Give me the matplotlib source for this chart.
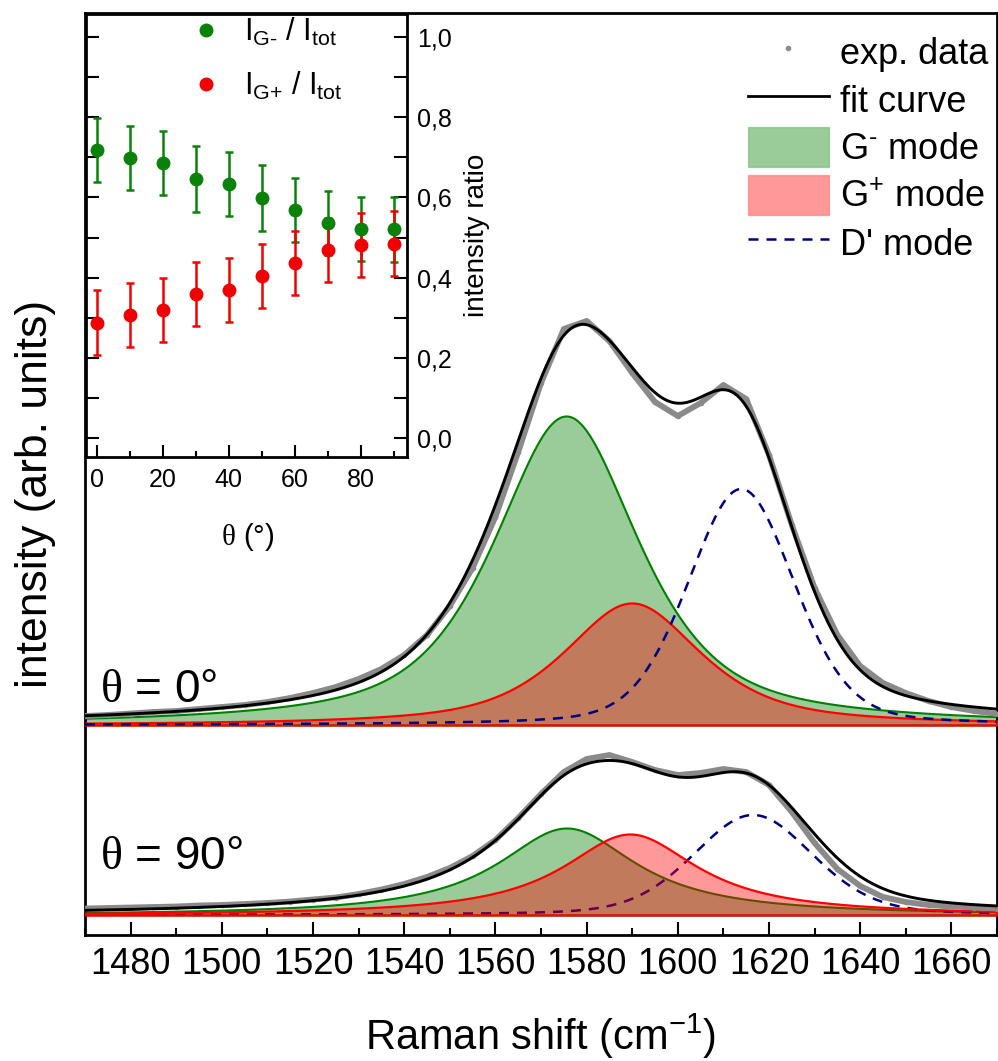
import numpy as np
import matplotlib
matplotlib.use("Agg")
import matplotlib.pyplot as plt
from matplotlib.lines import Line2D
from matplotlib.patches import Patch
from matplotlib.ticker import MultipleLocator, FixedLocator, FuncFormatter

plt.rcParams['font.family'] = ['Liberation Sans', 'DejaVu Sans']
plt.rcParams['mathtext.fontset'] = 'custom'
plt.rcParams['mathtext.rm'] = 'Liberation Sans'
plt.rcParams['mathtext.it'] = 'Liberation Sans:italic'
plt.rcParams['mathtext.sf'] = 'Liberation Serif'

# ---------------- data ----------------
raman_shift = [1470, 1475, 1480, 1485, 1490, 1495, 1500, 1505, 1510, 1515,
               1520, 1525, 1530, 1535, 1540, 1545, 1550, 1555, 1560, 1565,
               1570, 1575, 1580, 1585, 1590, 1595, 1600, 1605, 1610, 1615,
               1620, 1625, 1630, 1635, 1640, 1645, 1650, 1655, 1660, 1665, 1670]
exp_theta0 = [9, 10, 11.5, 13, 14, 16, 18, 20, 23, 27,
              32, 38, 46, 56, 70, 90, 119, 157, 208, 273,
              342, 396, 404, 384, 352, 323, 309, 322, 340, 326,
              270, 200, 137, 90, 59, 42, 32, 24, 18, 14, 11]
exp_theta90 = [6.5, 7, 7.5, 8, 8.5, 9.5, 10, 11, 12, 13.5,
               15.5, 17.5, 21, 25.5, 31, 38, 47, 59, 75, 97,
               121, 143, 156, 160, 153, 145, 140, 142, 146, 143,
               130, 103, 72, 46, 29, 18, 13, 10, 8.5, 7.5, 6.5]

# fitted peak parameters (G-, G+, D')
peak_names = ["G-", "G+", "D'"]
theta0_center = [1575.5, 1589.9, 1613.9]
theta0_hwhm = [19.0, 18.0, 13.8]
theta0_height = [309, 122, 236]
theta0_lorentz = [0.7, 0.7, 0.25]
theta90_center = [1575.6, 1589.5, 1616.5]
theta90_hwhm = [18.5, 18.0, 15.5]
theta90_height = [87, 81, 100]
theta90_lorentz = [1.0, 1.0, 0.25]

offset_theta0 = 210
offset_theta90 = 20

# inset: intensity ratios
theta_deg = [0, 10, 20, 30, 40, 50, 60, 70, 80, 90]
ratio_gminus = [0.718, 0.698, 0.686, 0.645, 0.634, 0.598, 0.568, 0.536, 0.522, 0.520]
ratio_gplus = [0.287, 0.306, 0.319, 0.359, 0.370, 0.405, 0.436, 0.468, 0.481, 0.484]
err_gminus = [0.08, 0.08, 0.08, 0.082, 0.08, 0.082, 0.08, 0.08, 0.08, 0.081]
err_gplus = [0.081, 0.08, 0.08, 0.08, 0.08, 0.08, 0.08, 0.08, 0.08, 0.081]

xticks_main = [1480, 1500, 1520, 1540, 1560, 1580, 1600, 1620, 1640, 1660]


def pseudo_voigt(x, c, w, h, eta):
    d2 = ((x - c) / w) ** 2
    return h * (eta / (1 + d2) + (1 - eta) * np.exp(-np.log(2) * d2))


W, H = 998, 1061
fig = plt.figure(figsize=(W / 100, H / 100), dpi=100)

ax = fig.add_axes([85 / W, 1 - 935 / H, 912 / W, 922 / H])
ax.set_xlim(1470, 1670)
ax.set_ylim(0, 922)

xf = np.linspace(1470, 1670, 1601)
GREEN = (0, 0.5, 0)
RED = (1, 0, 0)
NAVY = '#000080'
GRAY = '#8a8a8a'
DASH = (0, (4.0, 3.2))


def draw_spectrum(offset, centers, hwhms, heights, etas, exp_vals, dashed_on_top):
    comps = [pseudo_voigt(xf, c, w, h, e)
             for c, w, h, e in zip(centers, hwhms, heights, etas)]
    base = np.full_like(xf, offset)
    ax.fill_between(xf, base, base + comps[0], facecolor=(*GREEN, 0.4),
                    edgecolor=GREEN, linewidth=1.5, zorder=2)
    if not dashed_on_top:
        ax.plot(xf, base + comps[2], color=NAVY, lw=1.8, linestyle=DASH, zorder=2.5)
    ax.fill_between(xf, base, base + comps[1], facecolor=(*RED, 0.4),
                    edgecolor=RED, linewidth=1.6, zorder=3)
    if dashed_on_top:
        ax.plot(xf, base + comps[2], color=NAVY, lw=1.8, linestyle=DASH, zorder=3.5)
    ax.plot(raman_shift, np.array(exp_vals) + offset, color=GRAY, lw=4.2,
            solid_joinstyle='round', solid_capstyle='round', zorder=4)
    ax.plot(raman_shift, np.array(exp_vals) + offset, 'o', color=GRAY,
            ms=3, zorder=4)
    ax.plot(xf, base + sum(comps), color='black', lw=2.1, zorder=5)


draw_spectrum(offset_theta0, theta0_center, theta0_hwhm, theta0_height,
              theta0_lorentz, exp_theta0, True)
draw_spectrum(offset_theta90, theta90_center, theta90_hwhm, theta90_height,
              theta90_lorentz, exp_theta90, False)

for sp in ax.spines.values():
    sp.set_linewidth(2)
ax.set_yticks([])
ax.xaxis.set_major_locator(FixedLocator(xticks_main))
ax.xaxis.set_minor_locator(MultipleLocator(10))
ax.tick_params(axis='x', which='major', direction='in', length=9.5, width=1.5,
               pad=9, labelsize=26, top=False)
ax.tick_params(axis='x', which='minor', direction='in', length=5, width=1.5,
               top=False)

ax.set_xlabel('Raman shift (cm$^{-1}$)', fontsize=30)
ax.xaxis.label.set_va('center')
ax.xaxis.set_label_coords(0.5, (935 - 1036) / 922)
ax.set_ylabel('intensity (arb. units)', fontsize=32)
ax.yaxis.label.set_va('center')
ax.yaxis.set_label_coords((36 - 85) / 912, (935 - 494) / 922)

ax.text(1473.3, 245, r'$\mathsf{\theta}$ = 0°', fontsize=33, va='center', ha='left')
ax.text(1473.3, 78, r'$\mathsf{\theta}$ = 90°', fontsize=33, va='center', ha='left')

handles = [
    Line2D([], [], marker='o', ls='', color=GRAY, ms=3),
    Line2D([], [], color='black', lw=2),
    Patch(facecolor=(*GREEN, 0.4), edgecolor=(*GREEN, 0.25), lw=1),
    Patch(facecolor=(*RED, 0.4), edgecolor=(*RED, 0.25), lw=1),
    Line2D([], [], color=NAVY, lw=1.8, linestyle=DASH),
]
labels = ['exp. data', 'fit curve', r'G$^{\text{-}}$ mode', r'G$^{+}$ mode', "D' mode"]
leg = ax.legend(handles, labels, loc='upper right',
                bbox_to_anchor=(988 / W, 1 - 32 / H), bbox_transform=fig.transFigure,
                frameon=False, fontsize=26, handlelength=2.25, handleheight=1.3,
                handletextpad=0.3, labelspacing=0.22, borderpad=0, borderaxespad=0)
leg.set_zorder(10)

# ---------------- inset ----------------
ins = fig.add_axes([86 / W, 1 - 457 / H, 321 / W, 443 / H])
ins.set_zorder(6)
ins.set_facecolor('white')
ins.set_xlim(-3.2, 94)
ins.set_ylim(-0.047, 1.057)
ins.errorbar(theta_deg, ratio_gminus, yerr=err_gminus, fmt='o', color='#0a820a',
             ms=9, elinewidth=1.8, capsize=3, capthick=1.8, zorder=3)
ins.errorbar(theta_deg, ratio_gplus, yerr=err_gplus, fmt='o', color='#f00000',
             ms=9, elinewidth=1.8, capsize=3, capthick=1.8, zorder=3)
for sp in ins.spines.values():
    sp.set_linewidth(2)
ins.xaxis.set_major_locator(MultipleLocator(20))
ins.xaxis.set_minor_locator(MultipleLocator(10))
ins.yaxis.set_major_locator(MultipleLocator(0.2))
ins.yaxis.set_minor_locator(MultipleLocator(0.1))
ins.yaxis.set_major_formatter(FuncFormatter(lambda v, p: f'{v:.1f}'.replace('.', ',')))
ins.tick_params(axis='x', which='major', direction='in', length=9, width=1.5,
                labelsize=18, pad=8)
ins.tick_params(axis='x', which='minor', direction='in', length=4.5, width=1.5)
ins.tick_params(axis='y', which='both', direction='in', length=9.5, width=1.5,
                left=True, right=True, labelleft=False, labelright=True,
                labelsize=18, pad=7)
ins.set_xlabel(r'$\mathsf{\theta}$ (°)', fontsize=21)
ins.xaxis.label.set_va('center')
ins.xaxis.set_label_coords((248 - 86) / 321, (457 - 537) / 443)
ins.yaxis.set_label_position('right')
ins.set_ylabel('intensity ratio', fontsize=20, labelpad=9)

ih = [Line2D([], [], marker='o', ls='', color='#0a820a', ms=9),
      Line2D([], [], marker='o', ls='', color='#f00000', ms=9)]
il = [r'I$_{\text{G-}}$ / I$_{\text{tot}}$', r'I$_{\text{G+}}$ / I$_{\text{tot}}$']
ins.legend(ih, il, loc='upper left', bbox_to_anchor=(191 / W, 1 - 16 / H),
           bbox_transform=fig.transFigure, frameon=False, fontsize=22,
           handlelength=1.0, handletextpad=0.75, labelspacing=0.7,
           borderpad=0, borderaxespad=0, numpoints=1)

fig.savefig('out.png', dpi=100)
